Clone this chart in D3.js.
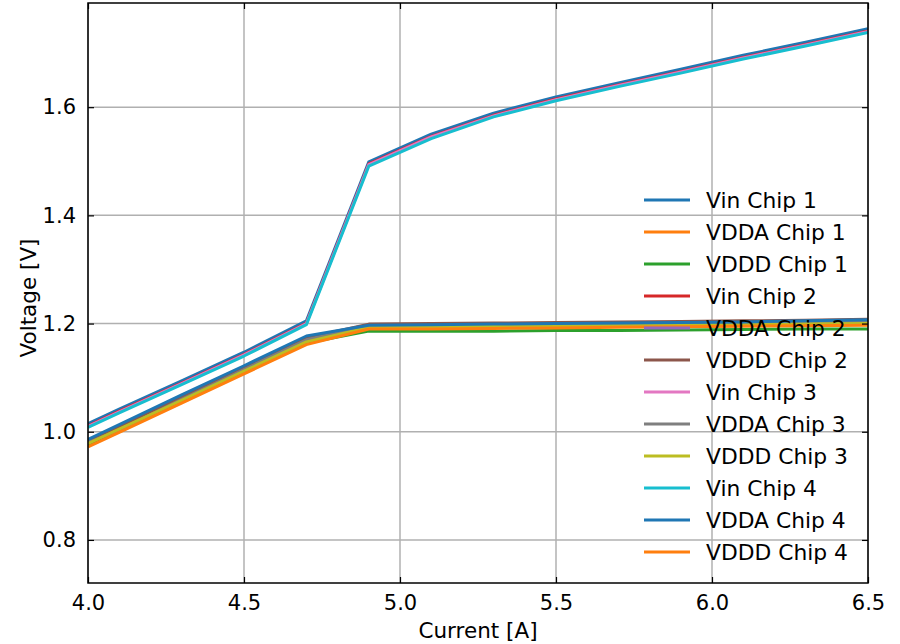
<!DOCTYPE html>
<html>
<head>
<meta charset="utf-8">
<script src="https://cdn.jsdelivr.net/npm/d3@7"></script>
<style>
  body { margin: 0; background: #fff; }
  text { font-family: "DejaVu Sans", sans-serif; }
</style>
</head>
<body>
<svg id="chart" width="900" height="644"></svg>
<script>
// current steps [A]
const current = [4.0, 4.1, 4.3, 4.5, 4.7, 4.9, 5.1, 5.3, 5.5, 5.7, 5.9, 6.1, 6.3, 6.5]

const vin1  = [1.015, 1.042, 1.094, 1.147, 1.205, 1.499, 1.550, 1.589, 1.619, 1.645, 1.670, 1.696, 1.720, 1.745]
const vdda1 = [0.975, 1.002, 1.056, 1.110, 1.163, 1.192, 1.192, 1.193, 1.194, 1.195, 1.196, 1.197, 1.198, 1.199]
const vddd1 = [0.976, 1.003, 1.057, 1.111, 1.164, 1.186, 1.186, 1.186, 1.187, 1.187, 1.188, 1.189, 1.190, 1.190]
const vin2  = [1.011, 1.038, 1.090, 1.143, 1.201, 1.495, 1.546, 1.585, 1.615, 1.641, 1.666, 1.692, 1.716, 1.741]
const vdda2 = [0.982, 1.006, 1.062, 1.117, 1.172, 1.196, 1.197, 1.198, 1.199, 1.200, 1.201, 1.202, 1.204, 1.205]
const vddd2 = [0.983, 1.010, 1.064, 1.119, 1.174, 1.199, 1.200, 1.201, 1.202, 1.203, 1.204, 1.205, 1.206, 1.208]
const vin3  = [1.010, 1.037, 1.089, 1.142, 1.200, 1.494, 1.545, 1.584, 1.614, 1.640, 1.665, 1.691, 1.715, 1.740]
const vdda3 = [0.980, 1.003, 1.060, 1.115, 1.170, 1.195, 1.196, 1.197, 1.198, 1.199, 1.200, 1.201, 1.202, 1.203]
const vddd3 = [0.978, 1.005, 1.058, 1.112, 1.166, 1.193, 1.194, 1.195, 1.196, 1.196, 1.197, 1.198, 1.199, 1.200]
const vin4  = [1.008, 1.035, 1.087, 1.140, 1.198, 1.491, 1.542, 1.582, 1.612, 1.638, 1.663, 1.689, 1.713, 1.738]
const vdda4 = [0.986, 1.013, 1.068, 1.122, 1.177, 1.197, 1.198, 1.199, 1.200, 1.201, 1.202, 1.203, 1.205, 1.207]
const vddd4 = [0.972, 0.999, 1.053, 1.107, 1.161, 1.190, 1.190, 1.191, 1.192, 1.193, 1.194, 1.195, 1.196, 1.197]

const seriesNames = ["Vin Chip 1", "VDDA Chip 1", "VDDD Chip 1",
                     "Vin Chip 2", "VDDA Chip 2", "VDDD Chip 2",
                     "Vin Chip 3", "VDDA Chip 3", "VDDD Chip 3",
                     "Vin Chip 4", "VDDA Chip 4", "VDDD Chip 4"]
const seriesValues = [vin1, vdda1, vddd1, vin2, vdda2, vddd2, vin3, vdda3, vddd3, vin4, vdda4, vddd4]

const xTicks = [4.0, 4.5, 5.0, 5.5, 6.0, 6.5]
const yTicks = [0.8, 1.0, 1.2, 1.4, 1.6]

const colors = ["#1f77b4", "#ff7f0e", "#2ca02c", "#d62728", "#9467bd", "#8c564b",
                "#e377c2", "#7f7f7f", "#bcbd22", "#17becf", "#1f77b4", "#ff7f0e"]

const plotLeft = 88, plotRight = 868, plotTop = 3, plotBottom = 583

const svg = d3.select("svg#chart")

const x = d3.scaleLinear().domain([4.0, 6.5]).range([plotLeft, plotRight])
const y = d3.scaleLinear().domain([0.7204, 1.7926]).range([plotBottom, plotTop])

// grid
svg.append("g").selectAll("line.vgrid")
    .data(xTicks)
    .join("line")
        .attr("class", "vgrid")
        .attr("x1", d => x(d)).attr("x2", d => x(d))
        .attr("y1", plotTop).attr("y2", plotBottom)
        .attr("stroke", "#b0b0b0").attr("stroke-width", 1.5)

svg.append("g").selectAll("line.hgrid")
    .data(yTicks)
    .join("line")
        .attr("class", "hgrid")
        .attr("x1", plotLeft).attr("x2", plotRight)
        .attr("y1", d => y(d)).attr("y2", d => y(d))
        .attr("stroke", "#b0b0b0").attr("stroke-width", 1.5)

// lines
const line = d3.line()
    .x((d, i) => x(current[i]))
    .y(d => y(d))

svg.append("defs").append("clipPath").attr("id", "clip")
    .append("rect").attr("x", plotLeft).attr("y", plotTop)
    .attr("width", plotRight - plotLeft).attr("height", plotBottom - plotTop)

svg.append("g").attr("clip-path", "url(#clip)")
    .selectAll("path.series")
    .data(seriesValues)
    .join("path")
        .attr("class", "series")
        .attr("d", line)
        .attr("fill", "none")
        .attr("stroke", (d, i) => colors[i])
        .attr("stroke-width", 3)
        .attr("stroke-linejoin", "round")

// axes, ticks pointing inward
const fontSize = 21

svg.append("g")
    .attr("transform", `translate(0,${plotBottom})`)
    .call(d3.axisBottom(x).tickValues(xTicks).tickFormat(d3.format(".1f")).tickSizeInner(-6).tickSizeOuter(0).tickPadding(12))
    .call(g => g.select(".domain").remove())
    .call(g => g.selectAll("text").attr("font-size", fontSize).attr("fill", "#000").attr("font-family", "DejaVu Sans"))
    .call(g => g.selectAll("line").attr("stroke", "#000").attr("stroke-width", 1.2))

svg.append("g")
    .attr("transform", `translate(0,${plotTop})`)
    .call(d3.axisTop(x).tickValues(xTicks).tickFormat("").tickSizeInner(-6).tickSizeOuter(0))
    .call(g => g.select(".domain").remove())
    .call(g => g.selectAll("line").attr("stroke", "#000").attr("stroke-width", 1.2))

svg.append("g")
    .attr("transform", `translate(${plotLeft},0)`)
    .call(d3.axisLeft(y).tickValues(yTicks).tickFormat(d3.format(".1f")).tickSizeInner(-6).tickSizeOuter(0).tickPadding(12))
    .call(g => g.select(".domain").remove())
    .call(g => g.selectAll("text").attr("font-size", fontSize).attr("fill", "#000").attr("font-family", "DejaVu Sans"))
    .call(g => g.selectAll("line").attr("stroke", "#000").attr("stroke-width", 1.2))

svg.append("g")
    .attr("transform", `translate(${plotRight},0)`)
    .call(d3.axisRight(y).tickValues(yTicks).tickFormat("").tickSizeInner(-6).tickSizeOuter(0))
    .call(g => g.select(".domain").remove())
    .call(g => g.selectAll("line").attr("stroke", "#000").attr("stroke-width", 1.2))

// frame
svg.append("rect")
    .attr("x", plotLeft).attr("y", plotTop)
    .attr("width", plotRight - plotLeft).attr("height", plotBottom - plotTop)
    .attr("fill", "none").attr("stroke", "#000").attr("stroke-width", 1.5)

// axis labels
svg.append("text")
    .attr("x", (plotLeft + plotRight) / 2).attr("y", 638)
    .attr("text-anchor", "middle")
    .attr("font-size", 21.5)
    .text("Current [A]")

svg.append("text")
    .attr("transform", `translate(36,298) rotate(-90)`)
    .attr("text-anchor", "middle")
    .attr("font-size", 21.5)
    .text("Voltage [V]")

// legend (no frame)
const legend = svg.append("g")
    .selectAll("g.entry")
    .data(seriesNames)
    .join("g")
        .attr("class", "entry")
        .attr("transform", (d, i) => `translate(644,${200 + i * 32})`)

legend.append("line")
    .attr("x1", 0).attr("x2", 46)
    .attr("stroke", (d, i) => colors[i])
    .attr("stroke-width", 3)

legend.append("text")
    .attr("x", 62).attr("dy", "0.35em")
    .attr("font-size", 21.8)
    .text(d => d)
</script>
</body>
</html>
